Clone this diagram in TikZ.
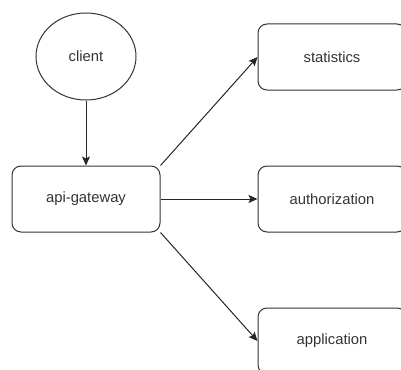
\documentclass[tikz,border=0pt]{standalone}
\usepackage{fontspec}
\setmainfont{Liberation Sans}
\usetikzlibrary{arrows.meta,shapes.geometric}

\begin{document}
\begin{tikzpicture}[x=1pt,y=-1pt,line width=1pt,
  every node/.style={font=\fontsize{14.8}{17}\selectfont,text=black!80},
  svc/.style={draw=black!80,rounded corners=9pt,minimum width=148pt,minimum height=66pt,inner sep=0pt},
  usr/.style={draw=black!80,ellipse,minimum width=100pt,minimum height=87pt,inner sep=0pt},
  conn/.style={draw=black!85,-{Stealth[length=9pt,width=8pt,inset=2pt]}}]
\clip (0,0) rectangle (401,369);
\node[usr] (client) at (86,56.5) {client};
\node[svc] (gw) at (86,199) {api-gateway};
\node[svc] (stat) at (332,57) {statistics};
\node[svc] (auth) at (332,199) {authorization};
\node[svc] (app) at (332,341) {application};
\draw[conn] (client) -- (gw);
\draw[conn] (gw.north east) -- (stat.west);
\draw[conn] (gw) -- (auth);
\draw[conn] (gw.south east) -- (app.west);
\end{tikzpicture}
\end{document}
